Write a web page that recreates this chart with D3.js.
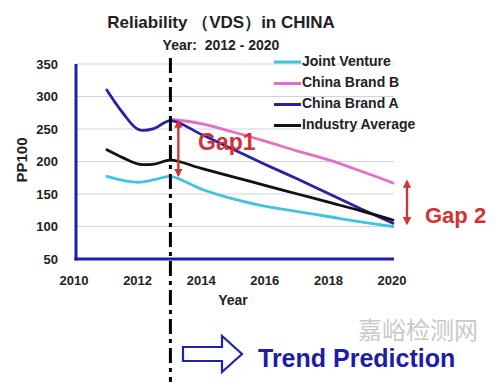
<!DOCTYPE html>
<html>
<head>
<meta charset="utf-8">
<script src="https://cdn.jsdelivr.net/npm/d3@7"></script>
<style>
html,body{margin:0;padding:0;background:#fff;}
svg{display:block;font-family:"Liberation Sans",Arial,sans-serif;}
</style>
</head>
<body>
<svg id="chart" width="499" height="382"></svg>
<script>
// ---- data ----
const years = [2011, 2011.5, 2012, 2012.5, 2013, 2014, 2015, 2016, 2017, 2018, 2019, 2020];
const jointVenture   = [177, 171, 168, 172, 177, 157, 142, 131, 123, 115, 107, 100];
const chinaBrandB    = [null, null, null, null, 265, 258, 245, 231, 216, 202, 185, 167];
const chinaBrandA    = [310, 275, 249, 251, 263, 241, 218, 195, 173, 150, 127, 105];
const industryAvg    = [218, 206, 196, 196, 202, 189, 176, 163, 150, 137, 124, 110];
const seriesNames = ["Joint Venture", "China Brand B", "China Brand A", "Industry Average"];
const seriesColors = ["#3fc3e0", "#e46ec8", "#2a20a8", "#111111"];
const xTicks = [2010, 2012, 2014, 2016, 2018, 2020];
const yTicks = [50, 100, 150, 200, 250, 300, 350];
const splitYear = 2013;
const gap1 = [265, 177];   // at 2013.25
const gap2 = [173, 103];   // right of 2020

const svg = d3.select("#chart");
const x = d3.scaleLinear().domain([2010, 2020]).range([75, 393]);
const y = d3.scaleLinear().domain([50, 350]).range([259, 64]);
const axisBlue = "#1f1fae";
const red = "#d23232";

// gridlines
svg.append("g").selectAll("line").data(yTicks.filter(d => d > 50)).join("line")
  .attr("x1", x(2010)).attr("x2", x(2020) + 1)
  .attr("y1", d => y(d)).attr("y2", d => y(d))
  .attr("stroke", "#cfd3e0").attr("stroke-width", 1.2);

// y tick labels
svg.append("g").selectAll("text").data(yTicks).join("text")
  .attr("x", 58).attr("y", d => y(d)).attr("dy", "0.35em")
  .attr("text-anchor", "end").attr("font-size", 13).attr("font-weight", "bold")
  .attr("fill", "#222").text(d => d);

// x tick labels
svg.append("g").selectAll("text").data(xTicks).join("text")
  .attr("x", d => x(d) - 1).attr("y", 285)
  .attr("text-anchor", "middle").attr("font-size", 13).attr("font-weight", "bold")
  .attr("fill", "#222").text(d => d);

// axis titles
svg.append("text").attr("transform", "translate(27,160) rotate(-90)")
  .attr("text-anchor", "middle").attr("font-size", 15).attr("font-weight", "bold")
  .attr("fill", "#222").text("PP100");
svg.append("text").attr("x", 233).attr("y", 305).attr("text-anchor", "middle")
  .attr("font-size", 14).attr("font-weight", "bold").attr("fill", "#222").text("Year");

// series lines
const allSeries = [jointVenture, chinaBrandB, chinaBrandA, industryAvg];
const line = d3.line()
  .defined(d => d[1] != null)
  .x(d => x(d[0])).y(d => y(d[1]))
  .curve(d3.curveCatmullRom.alpha(0.5));
allSeries.forEach((vals, i) => {
  svg.append("path")
    .datum(years.map((yr, j) => [yr, vals[j]]))
    .attr("d", line).attr("fill", "none")
    .attr("stroke", seriesColors[i]).attr("stroke-width", 2.8)
    .attr("stroke-linejoin", "round").attr("stroke-linecap", "round");
});

// axes lines (blue)
svg.append("line").attr("x1", x(2010) + 1).attr("x2", x(2010) + 1)
  .attr("y1", y(350)).attr("y2", y(50) + 1.5)
  .attr("stroke", axisBlue).attr("stroke-width", 3);
svg.append("line").attr("x1", x(2010) - 0.5).attr("x2", x(2020) + 1)
  .attr("y1", y(50)).attr("y2", y(50))
  .attr("stroke", axisBlue).attr("stroke-width", 3);

// dashed split line
svg.append("line").attr("x1", x(splitYear)).attr("x2", x(splitYear))
  .attr("y1", 58).attr("y2", 382)
  .attr("stroke", "#000").attr("stroke-width", 3)
  .attr("stroke-dasharray", "15,5,4,5");

// arrow markers
const defs = svg.append("defs");
defs.append("marker").attr("id", "redhead").attr("viewBox", "0 0 10 10")
  .attr("refX", 8).attr("refY", 5).attr("markerWidth", 3.6).attr("markerHeight", 3.6)
  .attr("orient", "auto-start-reverse").attr("markerUnits", "strokeWidth")
  .append("path").attr("d", "M0,0 L10,5 L0,10 z").attr("fill", red);

// Gap 1
svg.append("line").attr("x1", x(2013.25)).attr("x2", x(2013.25))
  .attr("y1", y(gap1[0]) + 2).attr("y2", y(gap1[1]) - 1)
  .attr("stroke", red).attr("stroke-width", 2.3)
  .attr("marker-start", "url(#redhead)").attr("marker-end", "url(#redhead)");
svg.append("text").attr("x", 198).attr("y", 150)
  .attr("font-size", 23).attr("font-weight", "bold").attr("fill", red).text("Gap1");

// Gap 2
svg.append("line").attr("x1", 407).attr("x2", 407)
  .attr("y1", y(gap2[0]) + 2).attr("y2", y(gap2[1]) - 1)
  .attr("stroke", red).attr("stroke-width", 2.3)
  .attr("marker-start", "url(#redhead)").attr("marker-end", "url(#redhead)");
svg.append("text").attr("x", 425).attr("y", 223)
  .attr("font-size", 22).attr("font-weight", "bold").attr("fill", red).text("Gap 2");

// titles
svg.append("text").attr("x", 221).attr("y", 28).attr("text-anchor", "middle")
  .attr("font-size", 17).attr("font-weight", "bold").attr("fill", "#222")
  .text("Reliability （VDS）in CHINA");
svg.append("text").attr("x", 221).attr("y", 50).attr("text-anchor", "middle")
  .attr("font-size", 14).attr("font-weight", "bold").attr("fill", "#222")
  .attr("xml:space", "preserve").text("Year:  2012 - 2020");

// legend
const legendY = [61, 82.5, 103.5, 124.5];
const lg = svg.append("g");
seriesNames.forEach((name, i) => {
  lg.append("line").attr("x1", 274).attr("x2", 301)
    .attr("y1", legendY[i] + 1).attr("y2", legendY[i] + 1)
    .attr("stroke", seriesColors[i]).attr("stroke-width", 3);
  lg.append("text").attr("x", 302).attr("y", legendY[i]).attr("dy", "0.35em")
    .attr("font-size", 14).attr("font-weight", "bold").attr("fill", "#222").text(name);
});

// bottom: hollow arrow + Trend Prediction
svg.append("path")
  .attr("d", "M183,347 L222,347 L222,336 L242,354 L222,372 L222,361 L183,361 Z")
  .attr("fill", "#fff").attr("stroke", "#2323a8").attr("stroke-width", 2.2)
  .attr("stroke-linejoin", "miter");
svg.append("text").attr("x", 418).attr("y", 339).attr("text-anchor", "middle")
  .attr("font-family", "'Noto Sans CJK SC', sans-serif")
  .attr("font-size", 24).attr("fill", "#c9c9c9").text("嘉峪检测网");
svg.append("text").attr("x", 258).attr("y", 367)
  .attr("font-size", 25).attr("font-weight", "bold").attr("fill", "#1d1ca6")
  .text("Trend Prediction");
</script>
</body>
</html>
